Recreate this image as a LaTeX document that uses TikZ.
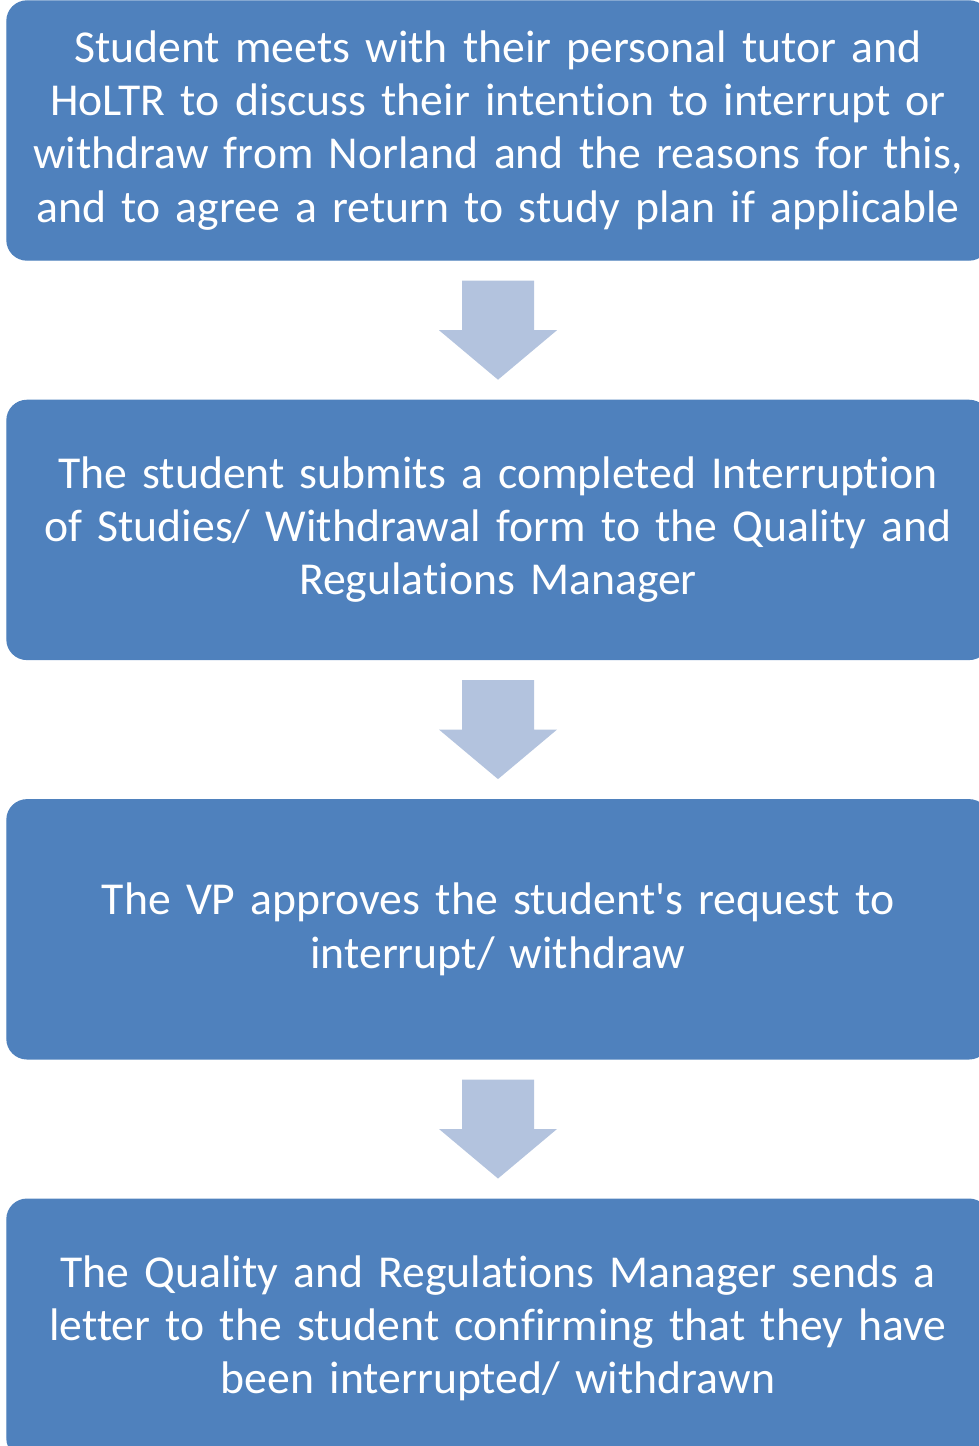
\documentclass[tikz,border=0pt]{standalone}
\usepackage{fontspec}
\setmainfont{Carlito}[Ligatures={NoCommon}]
\usetikzlibrary{positioning,calc}

\definecolor{stepblue}{HTML}{4F81BD}
\definecolor{arrowblue}{HTML}{B3C3DE}

\tikzset{
  stepbox/.style = {fill = stepblue, draw = stepblue, shape = rectangle, rounded corners = 0.2cm,
    minimum width = 9.82cm, minimum height = 2.59cm, text width = 9.8cm, align = center,
    text = white, inner sep = 0pt, font = \fontsize{13pt}{15.1pt}\selectfont},
  downarrow/.pic = {
    \fill[arrowblue] (-0.36,0.495) -- (0.36,0.495) -- (0.36,0) -- (0.59,0)
      -- (0,-0.495) -- (-0.59,0) -- (-0.36,0) -- cycle;
  }
}

\begin{document}
\begin{tikzpicture}
\useasboundingbox (0,0) rectangle (9.79,-14.46);
\clip (0,0) rectangle (9.79,-14.46);
\node[stepbox] (meet) at (4.98,-1.305) {Student meets with their personal tutor and\\ HoLTR to discuss their intention to interrupt or\\ withdraw from Norland and the reasons for this,\\ and to agree a return to study plan if applicable};
\node[stepbox, below = 1.39cm of meet] (submit) {The student submits a completed Interruption\\ of Studies/ Withdrawal form to the Quality and\\ Regulations Manager};
\node[stepbox, below = 1.39cm of submit] (approve) {The VP approves the student\textquotesingle s request to\\ interrupt/ withdraw};
\node[stepbox, below = 1.39cm of approve] (letter) {The Quality and Regulations Manager sends a\\ letter to the student confirming that they have\\ been interrupted/ withdrawn};
% arrows between steps
\coordinate (a1) at ($(meet.south)!0.5!(submit.north)$);
\coordinate (a2) at ($(submit.south)!0.5!(approve.north)$);
\coordinate (a3) at ($(approve.south)!0.5!(letter.north)$);
\foreach \a in {a1,a2,a3}
  \pic at (\a) {downarrow};
\end{tikzpicture}
\end{document}
